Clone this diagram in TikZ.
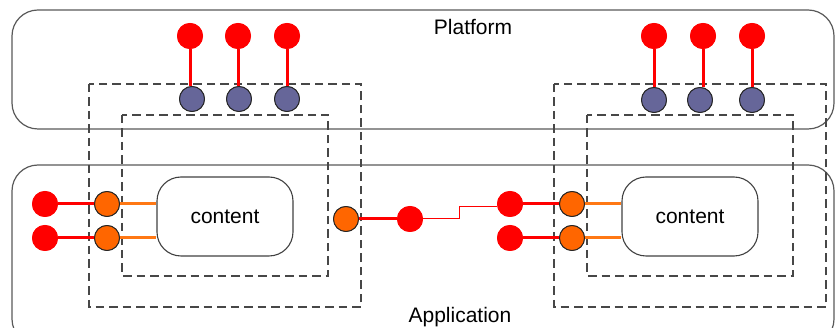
\documentclass[tikz,border=0pt]{standalone}
\usepackage{fontspec}
\setmainfont{Liberation Sans}
\begin{document}
\begin{tikzpicture}[x=1pt,y=-1pt,
  layer/.style={draw=black!65,line width=1.2pt,rounded corners=26pt},
  frame/.style={draw=black!72,line width=1.3pt,dash pattern=on 8.5pt off 5pt},
  redport/.style={circle,fill=red,inner sep=0pt,minimum size=26pt},
  blueport/.style={circle,fill={rgb,255:red,102;green,102;blue,153},draw=black!85,line width=0.9pt,inner sep=0pt,minimum size=25pt},
  orangeport/.style={circle,fill={rgb,255:red,255;green,102;blue,0},draw=black!85,line width=0.9pt,inner sep=0pt,minimum size=25pt},
  contentbox/.style={draw=black!75,line width=1.1pt,rounded corners=24pt,minimum width=136pt,minimum height=79pt,font=\fontsize{21}{24}\selectfont},
  redlink/.style={draw=red,line width=3pt},
  orangelink/.style={draw={rgb,255:red,255;green,120;blue,20},line width=3pt},
  thinlink/.style={draw=red,line width=1pt},
  caption/.style={font=\fontsize{21}{24}\selectfont}
]
\useasboundingbox (0,0) rectangle (836,328);

% layers
\begin{scope}
\clip (0,0) rectangle (836,328);
\draw[layer] (12,10) rectangle (834,129);
\draw[layer] (12,165) rectangle (834,345);
\end{scope}
\node[caption] (platform) at (473,27) {Platform};
\node[caption] (application) at (460,317) {Application};

% component frames
\draw[frame] (89,84) rectangle (361,307);
\draw[frame] (122,115) rectangle (328,276);
\draw[frame] (554,84) rectangle (826,307);
\draw[frame] (587,115) rectangle (793,276);

% content boxes
\node[contentbox] (cl) at (225,216.5) {content};
\node[contentbox] (cr) at (690,216.5) {content};

% platform ports, left component
\node[redport] (pl1) at (190,36) {};
\node[redport] (pl2) at (238,36) {};
\node[redport] (pl3) at (287,36) {};
\node[blueport] (bl1) at (192,99) {};
\node[blueport] (bl2) at (239,99) {};
\node[blueport] (bl3) at (287,99) {};
% platform ports, right component
\node[redport] (pr1) at (654,36) {};
\node[redport] (pr2) at (703,36) {};
\node[redport] (pr3) at (752,36) {};
\node[blueport] (br1) at (654,100) {};
\node[blueport] (br2) at (700,100) {};
\node[blueport] (br3) at (752,100) {};

% application ports, left component
\node[redport] (al1) at (45,204) {};
\node[redport] (al2) at (45,238) {};
\node[orangeport] (ol1) at (107,204) {};
\node[orangeport] (ol2) at (107,238) {};
\node[orangeport] (om) at (346,219) {};
\node[redport] (rm) at (410,219) {};
% application ports, right component
\node[redport] (ar1) at (510,204) {};
\node[redport] (ar2) at (510,238) {};
\node[orangeport] (or1) at (572,204) {};
\node[orangeport] (or2) at (572,238) {};

% links
\foreach \r/\b in {pl1/bl1,pl2/bl2,pl3/bl3,pr1/br1,pr2/br2,pr3/br3}
  \draw[redlink] (\r.south) -- (\b.north -| \r.south);

\draw[redlink] (al1.east) -- (ol1.west);
\draw[redlink] (al2.east) -- (ol2.west);
\draw[orangelink] (ol1.east) -- (ol1.east -| cl.west);
\draw[orangelink] (ol2.east) -- (ol2.east -| cl.west);
\draw[redlink] (om.east) -- (rm.west);
\coordinate (bend) at (459,207);
\draw[thinlink] (rm.east) -- (bend |- rm.east) -- (bend) -- (ar1.west |- bend);
\draw[redlink] (ar1.east) -- (or1.west);
\draw[redlink] (ar2.east) -- (or2.west);
\draw[orangelink] (or1.east) -- (or1.east -| cr.west);
\draw[orangelink] (or2.east) -- (or2.east -| cr.west);

% redraw ports over the link ends
\foreach \n in {pl1,pl2,pl3,pr1,pr2,pr3,al1,al2,rm,ar1,ar2}
  \node[redport] at (\n) {};
\foreach \n in {bl1,bl2,bl3,br1,br2,br3}
  \node[blueport] at (\n) {};
\foreach \n in {ol1,ol2,om,or1,or2}
  \node[orangeport] at (\n) {};
\end{tikzpicture}
\end{document}
